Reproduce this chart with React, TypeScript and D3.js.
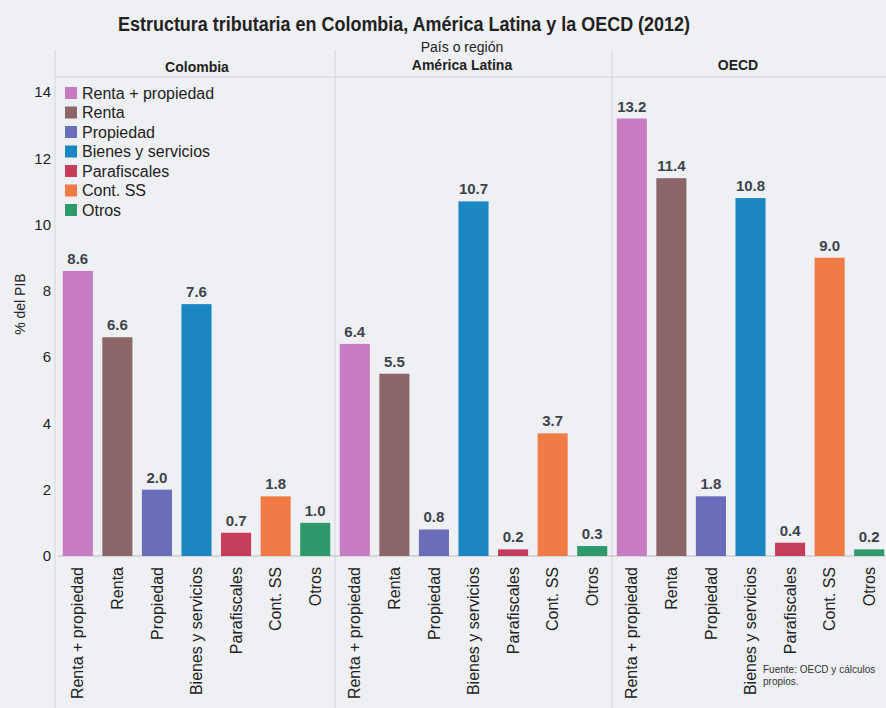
import React from "react";
import * as d3 from "d3";

const categories = ["Renta + propiedad", "Renta", "Propiedad", "Bienes y servicios", "Parafiscales", "Cont. SS", "Otros"];
const regions = ["Colombia", "América Latina", "OECD"];
const colombia = [8.6, 6.6, 2.0, 7.6, 0.7, 1.8, 1.0];
const americaLatina = [6.4, 5.5, 0.8, 10.7, 0.2, 3.7, 0.3];
const oecd = [13.2, 11.4, 1.8, 10.8, 0.4, 9.0, 0.2];
const yTicks = [0, 2, 4, 6, 8, 10, 12, 14];
const colors = ["#c67bc2", "#8a6668", "#6b6cba", "#1b87c2", "#c63c5c", "#f07b47", "#2e9a6c"];

const seriesByRegion = [colombia, americaLatina, oecd];

export default function App() {
  const W = 886, H = 708;
  const left = 58, right = 889;
  const y = d3.scaleLinear().domain([0, 14]).range([556, 92]);
  const gx = d3.scaleBand<string>().domain(regions).range([left, right]).padding(0);
  const bx = d3.scaleBand<string>().domain(categories).range([0, gx.bandwidth()]).paddingInner(0.24).paddingOuter(0.12);
  const font = "'Liberation Sans', Arial, sans-serif";
  const narrow = "'Liberation Sans Narrow', 'Liberation Sans', Arial, sans-serif";
  const lineCol = "#d3d6dc";
  const headerX = [197, 462, 738];
  const headerY = [72, 70, 70];

  return (
    <svg width={W} height={H} style={{ position: "absolute", left: 0, top: 0, background: "#eff0f3" }}>
      <rect x={0} y={0} width={W} height={H} fill="#eff0f3" />
      <text x={404} y={31} textAnchor="middle" fontFamily={narrow} fontWeight="bold" fontSize={20} fill="#222" textLength={572} lengthAdjust="spacingAndGlyphs">
        Estructura tributaria en Colombia, América Latina y la OECD (2012)
      </text>
      {/* frame lines */}
      <line x1={55} x2={W} y1={77} y2={77} stroke={lineCol} strokeWidth={1} />
      <line x1={55} x2={55} y1={50} y2={H} stroke={lineCol} strokeWidth={1} />
      {regions.slice(1).map((r) => (
        <line key={r} x1={gx(r)!} x2={gx(r)!} y1={50} y2={H} stroke={lineCol} strokeWidth={1} />
      ))}
      {/* headers */}
      <text x={462} y={52} textAnchor="middle" fontFamily={narrow} fontSize={14} fill="#222">País o región</text>
      {regions.map((r, i) => (
        <text key={r} x={headerX[i]} y={headerY[i]} textAnchor="middle" fontFamily={narrow} fontWeight="bold" fontSize={14} fill="#222">{r}</text>
      ))}
      {/* y axis */}
      {yTicks.map((t) => (
        <text key={t} x={51} y={y(t)} dy="0.35em" textAnchor="end" fontFamily={font} fontSize={15} fill="#222">{t}</text>
      ))}
      <text transform={`translate(20,${y(7.6)}) rotate(-90)`} textAnchor="middle" dy="0.35em" fontFamily={font} fontSize={14} fill="#222">% del PIB</text>
      {/* baseline */}
      <line x1={left} x2={W} y1={y(0)} y2={y(0)} stroke="#b9bcc2" strokeWidth={1} />
      {/* bars */}
      {regions.map((r, ri) => (
        <g key={r} transform={`translate(${gx(r)},0)`}>
          {categories.map((c, ci) => {
            const v = seriesByRegion[ri][ci];
            const x0 = bx(c)!;
            const cx = x0 + bx.bandwidth() / 2;
            return (
              <g key={c}>
                <rect x={x0} y={y(v)} width={bx.bandwidth()} height={y(0) - y(v)} fill={colors[ci]} />
                <text x={cx} y={y(v) - 7} textAnchor="middle" fontFamily={font} fontWeight="bold" fontSize={15} fill="#3d434c">{v.toFixed(1)}</text>
                <text transform={`translate(${cx},567) rotate(-90)`} textAnchor="end" dy="0.35em" fontFamily={font} fontSize={16} fill="#222">{c}</text>
              </g>
            );
          })}
        </g>
      ))}
      {/* legend */}
      {categories.map((c, i) => (
        <g key={c} transform={`translate(65,${93 + i * 19.5})`}>
          <rect x={0} y={-6} width={12} height={12} fill={colors[i]} />
          <text x={17} y={0} dy="0.35em" fontFamily={font} fontSize={16} fill="#222">{c}</text>
        </g>
      ))}
      {/* source */}
      <text x={763} y={673} fontFamily={narrow} fontSize={10} fill="#333">Fuente: OECD y cálculos</text>
      <text x={763} y={685} fontFamily={narrow} fontSize={10} fill="#333">propios.</text>
    </svg>
  );
}
